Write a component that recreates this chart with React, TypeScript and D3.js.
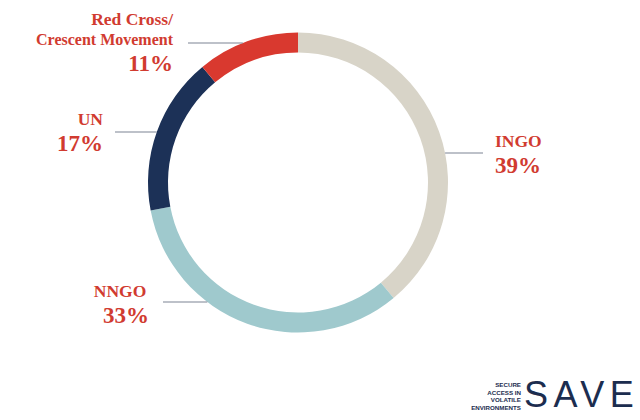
import React from "react";
import * as d3 from "d3";

const categories = ["INGO", "NNGO", "UN", "Red Cross/Crescent Movement"];
const values = [39, 33, 17, 11];
const valueLabels = ["39%", "33%", "17%", "11%"];
const nameLines = [["INGO"], ["NNGO"], ["UN"], ["Red Cross/", "Crescent Movement"]];
const colors = ["#d8d4c8", "#9fc9cd", "#1c3157", "#d9392f"];
const logoWords = ["SECURE", "ACCESS IN", "VOLATILE", "ENVIRONMENTS"];

const W = 640;
const H = 420;
const cx = 298;
const cy = 182.5;
const R = 150;
const r = 130;
const labelColor = "#d13b30";
const lineColor = "#7c8494";
const serif = "'Liberation Serif', 'Times New Roman', serif";

// label layout: text anchor position, alignment, leader line y and outer x, side
const layout = [
  { x: 495, y: 147, anchor: "start", lineY: 153, lineX: 483, side: 1 },
  { x: 120, y: 297, anchor: "middle", lineY: 302, lineX: 163, side: -1 },
  { x: 103, y: 125, anchor: "end", lineY: 132, lineX: 115, side: -1 },
  { x: 173, y: 25, anchor: "end", lineY: 43, lineX: 188, side: -1 },
];

export default function App() {
  const pie = d3.pie<number>().sort(null).value((d) => d).startAngle(0).endAngle(2 * Math.PI);
  const arcs = pie(values);
  const arc = d3.arc<d3.PieArcDatum<number>>().innerRadius(r).outerRadius(R);

  return (
    <svg width={W} height={H} style={{ position: "absolute", left: 0, top: 0, background: "#fff" }}>
      <g transform={`translate(${cx},${cy})`}>
        {arcs.map((a, i) => (
          <path key={categories[i]} d={arc(a) || ""} fill={colors[i]} />
        ))}
      </g>
      {layout.map((l, i) => {
        const dy = l.lineY - cy;
        const ringX = cx + l.side * Math.sqrt(R * R - dy * dy);
        const lines = nameLines[i];
        return (
          <g key={categories[i]}>
            <line x1={l.lineX} x2={ringX} y1={l.lineY} y2={l.lineY} stroke={lineColor} strokeWidth={1.2} />
            {lines.map((t, j) => (
              <text
                key={t}
                x={l.x}
                y={l.y + j * 20}
                textAnchor={l.anchor}
                fontFamily={serif}
                fontWeight="bold"
                fontSize={j === 1 ? 16 : 17.5}
                fill={labelColor}
              >
                {t}
              </text>
            ))}
            <text
              x={l.anchor === "middle" ? l.x + 6 : l.x}
              y={l.y + (lines.length - 1) * 20 + 26}
              textAnchor={l.anchor}
              fontFamily={serif}
              fontWeight="bold"
              fontSize={23}
              fill={labelColor}
            >
              {valueLabels[i]}
            </text>
          </g>
        );
      })}
      <g>
        {logoWords.map((w, i) => (
          <text
            key={w}
            x={521}
            y={387 + i * 7.5}
            textAnchor="end"
            fontFamily="'Liberation Sans', Arial, sans-serif"
            fontWeight="bold"
            fontSize={6.2}
            fill="#1c2d4f"
          >
            {w}
          </text>
        ))}
        <text
          x={524}
          y={407}
          fontFamily="'Liberation Sans', Arial, sans-serif"
          fontSize={36}
          letterSpacing={5.5}
          fill="#1c2d4f"
        >
          SAVE
        </text>
      </g>
    </svg>
  );
}
